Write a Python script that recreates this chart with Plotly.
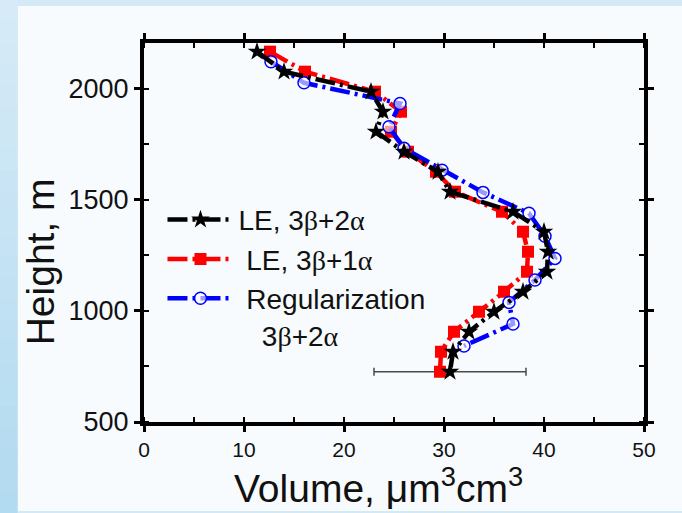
import plotly.graph_objects as go

# Heights (m) of the two LE retrievals and of the regularization retrieval
le_height = [2166, 2076, 1986, 1896, 1806, 1716, 1626, 1536, 1446, 1356,
             1266, 1176, 1086, 996, 906, 816, 726]
reg_height = [2121, 2026, 1933, 1828, 1731, 1633, 1533, 1439, 1336, 1236,
              1139, 1038, 941, 842]

# Volume concentration, um^3 cm^-3
le_3b2a = [11.3, 14.0, 22.7, 23.9, 23.2, 26.0, 29.4, 30.6, 36.9, 40.0,
           40.4, 40.3, 37.9, 35.0, 32.5, 30.9, 30.6]
le_3b1a = [12.6, 16.1, 23.1, 25.7, 24.7, 26.4, 29.2, 31.1, 35.8, 37.9,
           38.4, 38.3, 36.0, 33.5, 31.0, 29.7, 29.6]
reg_3b2a = [12.7, 16.0, 25.6, 24.5, 26.0, 29.8, 33.9, 38.5, 40.1, 41.1,
            39.1, 36.5, 36.9, 32.0]

# Uncertainty shown at the lowest LE level
err_height = [726]
err_volume = [30.6]
err_size = [7.6]

x_ticks = [0, 10, 20, 30, 40, 50]
y_ticks = [500, 1000, 1500, 2000]

GR = "font-family:'Liberation Serif', 'Times New Roman', serif"


def greek(s):
    return (s.replace("β", f"<span style=\"{GR}\">β</span>")
             .replace("α", f"<span style=\"{GR}\">α</span>"))


NB = "\u00a0"
dash = "20px,5px,3px,5px"

fig = go.Figure()

fig.add_trace(go.Scatter(
    x=err_volume, y=err_height, mode="markers",
    marker=dict(size=1, opacity=0),
    error_x=dict(type="data", array=err_size, color="#4a4a4a",
                 thickness=1.5, width=4),
    showlegend=False, hoverinfo="skip"))

fig.add_trace(go.Scatter(
    x=le_3b1a, y=le_height, mode="lines+markers", legendrank=2,
    name=NB + greek("LE, 3β+1α"),
    line=dict(color="#ff0000", width=4.5, dash=dash),
    marker=dict(symbol="square", size=12, color="#ff0000")))

fig.add_trace(go.Scatter(
    x=reg_3b2a, y=reg_height, mode="lines+markers", legendrank=3,
    name=NB + "Regularization<br>" + NB * 3 + greek("3β+2α"),
    line=dict(color="#0000ff", width=4.5, dash=dash),
    marker=dict(symbol="circle", size=12, color="rgba(255,255,255,0.6)",
                line=dict(color="#0000ff", width=1.5))))

fig.add_trace(go.Scatter(
    x=le_3b2a, y=le_height, mode="lines+markers", legendrank=1,
    name=greek("LE, 3β+2α"),
    line=dict(color="#000000", width=4.5, dash=dash),
    marker=dict(symbol="star", size=14, color="#000000")))

# plot-area geometry in pixels
W, H = 682, 513
L, R, T, B = 143.5, 38, 43, 90.5
pw, ph = W - L - R, H - T - B


def px(xp):
    return (xp - L) / pw


def py(yp):
    return (H - B - yp) / ph


shapes = []
# white panel behind the chart
shapes.append(dict(type="rect", xref="paper", yref="paper", layer="below",
                   x0=px(17), x1=px(W + 2), y0=py(511.5), y1=py(6),
                   fillcolor="#f7fbfd", line=dict(width=0)))
# pale blue strip down the left edge, darkening towards the bottom
n = 24
top_c = (214, 235, 247)
bot_c = (178, 218, 240)
for i in range(n):
    f = i / (n - 1)
    c = tuple(round(top_c[k] + (bot_c[k] - top_c[k]) * f) for k in range(3))
    shapes.append(dict(type="rect", xref="paper", yref="paper", layer="below",
                       x0=px(-2), x1=px(17), y0=py(H * (i + 1) / n + 1),
                       y1=py(H * i / n), fillcolor="rgb(%d,%d,%d)" % c,
                       line=dict(width=0)))

axis_common = dict(
    showline=True, linecolor="black", linewidth=4, mirror="ticks",
    ticks="outside", ticklen=6, tickwidth=3, tickcolor="black",
    showgrid=False, zeroline=False,
    minor=dict(ticks="inside", ticklen=5, tickwidth=2, tickcolor="black",
               showgrid=False),
)

fig.update_layout(
    width=W, height=H,
    margin=dict(l=L, r=R, t=T, b=B, pad=0),
    paper_bgcolor="#d3e9f5",
    plot_bgcolor="#f7fbfd",
    font=dict(family="Arial, 'Liberation Sans', sans-serif", color="#111"),
    shapes=shapes,
    showlegend=True,
    legend=dict(x=px(162), y=py(195), xanchor="left", yanchor="top",
                bgcolor="rgba(0,0,0,0)", borderwidth=0, valign="top",
                itemwidth=66,
                font=dict(size=28, color="#111"), tracegroupgap=0),
    xaxis=dict(range=[0, 50], tickvals=x_ticks,
               tickfont=dict(size=21), **axis_common),
    yaxis=dict(range=[500, 2205], tickvals=y_ticks,
               tickfont=dict(size=27), **axis_common),
    annotations=[
        dict(text="Height, m", textangle=-90, xref="paper", yref="paper",
             x=px(40), y=py(262), xanchor="center", yanchor="middle",
             showarrow=False, font=dict(size=39, color="#111")),
        dict(text="Volume, μm<sup>3</sup>cm<sup>3</sup>", xref="paper",
             yref="paper", x=px(378), y=py(486), xanchor="center",
             yanchor="middle", showarrow=False,
             font=dict(size=39, color="#111")),
    ],
)
fig.update_xaxes(minor_dtick=5)
fig.update_yaxes(minor_dtick=250)

fig.write_html("out.html")
